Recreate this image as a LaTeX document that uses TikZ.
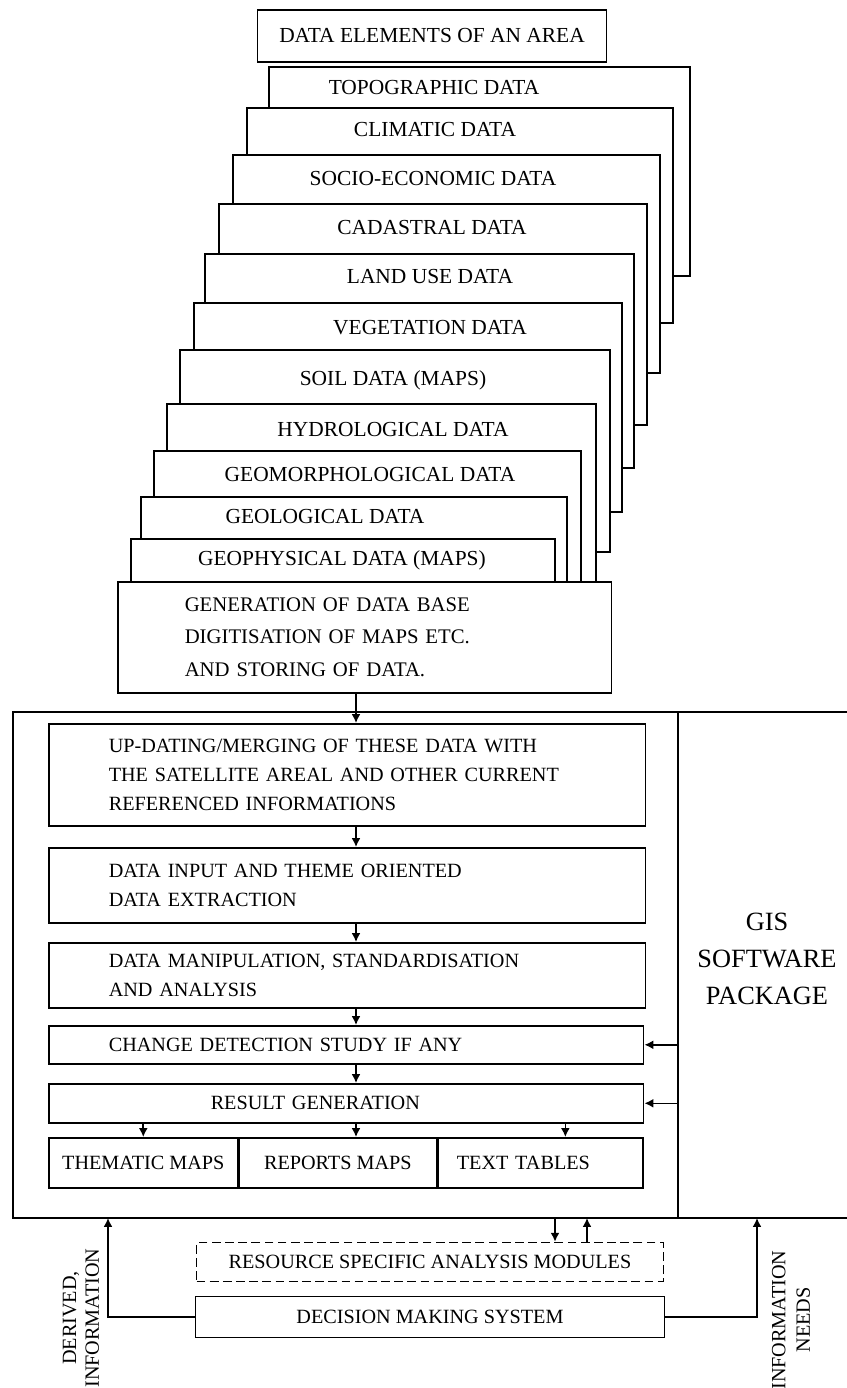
\documentclass[tikz,border=0pt]{standalone}
\usepackage{fontspec}
\setmainfont{Liberation Serif}
\usetikzlibrary{arrows.meta}

\newcommand\boxfont{\fontsize{11.5}{16.5}\selectfont}
\newcommand\layfont{\fontsize{12.2}{14}\selectfont}

\begin{document}
\begin{tikzpicture}[x=0.02cm, y=-0.02cm, line width=0.9pt,
    box/.style={draw, fill=white, inner sep=0pt, font=\boxfont},
    lbox/.style={box, anchor=north west, align=left, inner xsep=1.2cm, text width=9.54cm},
    outbox/.style={box, anchor=north west, minimum height=1cm},
    page/.style={draw, fill=white},
    arr/.style={-{Latex[length=5pt,width=5pt]}}]
\useasboundingbox (0,0) rectangle (847,1388);

% Title
\node[box, font=\layfont, minimum width=6.98cm, minimum height=1.04cm] (elem) at (432,36) {DATA ELEMENTS OF AN AREA};

% Stack of data layers, back to front
\foreach \xa/\ya/\xb/\yb/\tx/\ty/\lay/\txt in {
    269/67/690/276/434/88/topo/TOPOGRAPHIC DATA,
    247/108/673/323/435/130/clim/CLIMATIC DATA,
    233/155/660/373/433/179/socio/SOCIO-ECONOMIC DATA,
    219/204/647/425/432/228/cad/CADASTRAL DATA,
    205/254/634/468/430/277/land/LAND USE DATA,
    194/303/622/512/430/328/veg/VEGETATION DATA,
    180/350/610/552/393/380/soil/SOIL DATA (MAPS),
    167/404/596/600/393/430/hydro/HYDROLOGICAL DATA,
    154/451/581/600/370/475/geom/GEOMORPHOLOGICAL DATA,
    141/497/567/600/325/517/geol/GEOLOGICAL DATA,
    131/539/555/600/342/560/geoph/GEOPHYSICAL DATA (MAPS)} {
    \draw[page] (\xa,\ya) rectangle (\xb,\yb);
    \node[font=\layfont] (\lay) at (\tx,\ty) {\txt};
}

% Data base
\node[box, anchor=north west, minimum height=2.22cm, align=left, inner xsep=1.34cm, text width=7.2cm,
    font={\fontsize{11.8}{18.4}\selectfont}] (gen) at (117,581)
    {GENERATION OF DATA BASE\\DIGITISATION OF MAPS ETC.\\AND STORING OF DATA.};

% GIS frame
\draw (847,712) -- (13,712) -- (13,1218) -- (847,1218);
\coordinate (divt) at (678,712);
\coordinate (divb) at (678,1218);
\draw (divt) -- (divb);
\node[align=center, font={\fontsize{15}{21}\selectfont}] (gis) at (767,959) {GIS\\SOFTWARE\\PACKAGE};

% Processing steps
\node[lbox, minimum height=2.04cm] (upd) at (48,723)
    {UP-DATING/MERGING OF THESE DATA WITH\\THE SATELLITE AREAL AND OTHER CURRENT\\REFERENCED INFORMATIONS};
\node[lbox, minimum height=1.5cm] (inp) at (48,847) {DATA INPUT AND THEME ORIENTED\\DATA EXTRACTION};
\node[lbox, minimum height=1.3cm] (man) at (48,942) {DATA MANIPULATION, STANDARDISATION\\AND ANALYSIS};
\node[lbox, text width=9.5cm, minimum height=0.76cm] (chg) at (48,1025) {CHANGE DETECTION STUDY IF ANY};
\node[lbox, inner xsep=3.24cm, text width=5.42cm, minimum height=0.78cm] (res) at (48,1083) {RESULT GENERATION};

% Outputs
\node[outbox, minimum width=3.78cm] (thm) at (48,1137) {THEMATIC MAPS};
\node[outbox, minimum width=3.94cm] (rep) at (thm.north east) {REPORTS MAPS};
\node[outbox, minimum width=4.1cm, align=left, inner xsep=0.38cm, text width=3.34cm] (tab) at (rep.north east) {TEXT TABLES};

% Flow
\coordinate (spine) at (356,700);
\draw[arr] (gen.south -| spine) -- (upd.north -| spine);
\draw[arr] (upd.south -| spine) -- (inp.north -| spine);
\draw[arr] (inp.south -| spine) -- (man.north -| spine);
\draw[arr] (man.south -| spine) -- (chg.north -| spine);
\draw[arr] (chg.south -| spine) -- (res.north -| spine);
\draw[arr] (res.south -| thm.north) -- (thm.north);
\draw[arr] (res.south -| spine) -- (rep.north -| spine);
\draw[arr] ([xshift=0.5cm]res.south -| tab.north) -- ([xshift=0.5cm]tab.north);
\draw[arr] (chg.east -| divt) -- (chg.east);
\draw[arr] (res.east -| divt) -- (res.east);

% Decision part
\node[box, dash pattern=on 5pt off 2.5pt, minimum width=9.34cm, minimum height=0.78cm] (rsm) at (430,1262)
    {RESOURCE SPECIFIC ANALYSIS MODULES};
\node[box, minimum width=9.38cm, minimum height=0.82cm] (dec) at (430,1317) {DECISION MAKING SYSTEM};

\coordinate (fbl) at (108,1218);
\coordinate (fbr) at (757,1218);
\coordinate (ml) at (555,1218);
\coordinate (mr) at (587,1218);
\draw[arr] (dec.west) -| (fbl);
\draw[arr] (dec.east) -| (fbr);
\draw[arr] (ml) -- (ml |- rsm.north);
\draw[arr] (mr |- rsm.north) -- (mr);

\node[rotate=90, align=center, font={\fontsize{11.5}{13}\selectfont}] (derinf) at (81,1318) {DERIVED,\\INFORMATION};
\node[rotate=90, align=center, font={\fontsize{11.5}{14}\selectfont}] (infneed) at (791,1320) {INFORMATION\\NEEDS};
\end{tikzpicture}
\end{document}
